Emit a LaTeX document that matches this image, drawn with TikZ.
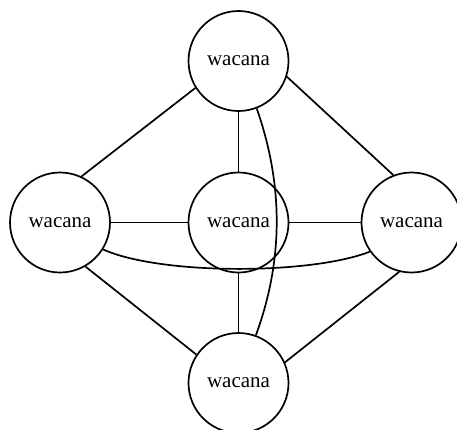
\documentclass[tikz,border=0pt]{standalone}
\usepackage{fontspec}
\setmainfont{Liberation Serif}
\begin{document}
\begin{tikzpicture}[x=1pt,y=-1pt,
  vert/.style={circle,draw,line width=1.7pt,minimum size=100pt,inner sep=0pt,font=\fontsize{21}{25}\selectfont},
  edge/.style={line width=1.7pt}]
\useasboundingbox (0,0) rectangle (457,429);
\begin{scope}
\clip (0,0) rectangle (457,429);
\node[vert] (t) at (238.5,61) {wacana};
\node[vert] (l) at (60,222.5) {wacana};
\node[vert] (m) at (238.5,222.5) {wacana};
\node[vert] (r) at (411.5,222.5) {wacana};
\node[vert] (b) at (238.5,383) {wacana};
\draw[edge] (t.212) -- (l.65);
\draw[edge] (t) -- (m);
\draw[edge] (t.-18) -- (r.111);
\draw[edge] (l) -- (m);
\draw[edge] (m) -- (r);
\draw[edge] (l.-60) -- (b.146);
\draw[edge] (m) -- (b);
\draw[edge] (r.256) -- (b.24);
\draw[edge] (t.291) .. controls (283.5,185) and (283.5,260) .. (b.70);
\draw[edge] (l.328) .. controls (160,275) and (310,275) .. (r.215);
\end{scope}
\end{tikzpicture}
\end{document}
